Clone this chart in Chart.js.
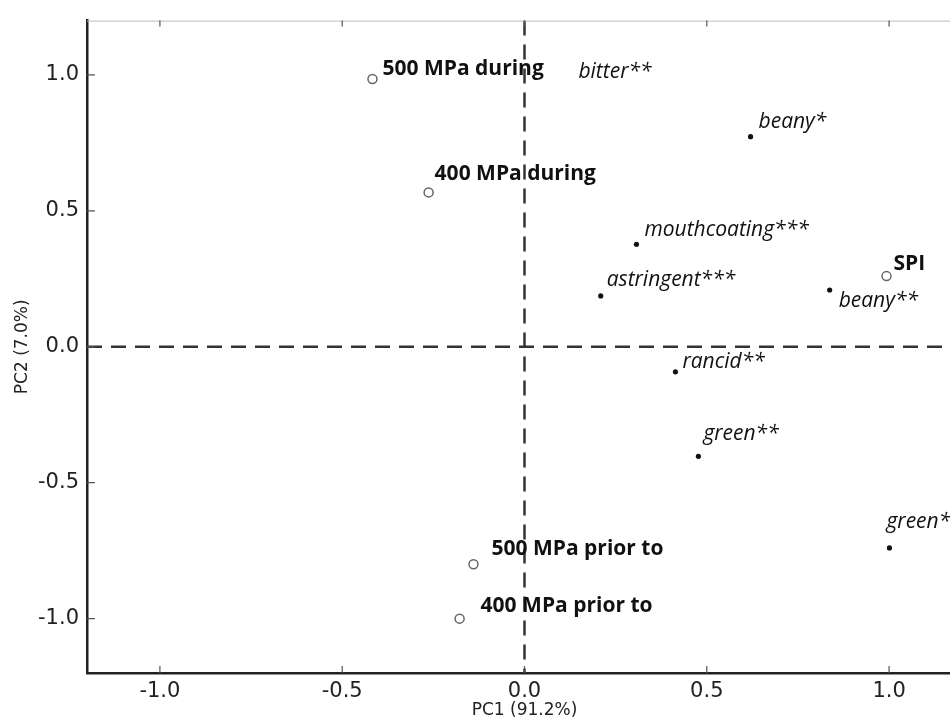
<!DOCTYPE html>
<html>
<head>
<meta charset="utf-8">
<script src="https://cdn.jsdelivr.net/npm/chart.js@4.4.1/dist/chart.umd.min.js"></script>
<style>
  html, body { margin: 0; padding: 0; background: #fff; overflow: hidden; }
  #wrap { width: 970px; height: 722px; position: relative; }
</style>
</head>
<body>
<div id="wrap"><canvas id="pcaChart"></canvas></div>
<script>
// samples (open circles)
const sampleNames = ['500 MPa during', '400 MPa during', 'SPI', '500 MPa prior to', '400 MPa prior to'];
const sampleX = [-0.417, -0.263, 0.993, -0.14, -0.178];
const sampleY = [0.985, 0.568, 0.26, -0.80, -1.0];

// sensory attributes (filled dots)
const attrNames = ['bitter**', 'beany*', 'mouthcoating***', 'astringent***', 'beany**', 'rancid**', 'green**', 'green*'];
const attrX = [0.126, 0.62, 0.307, 0.209, 0.837, 0.414, 0.477, 1.001];
const attrY = [0.978, 0.773, 0.377, 0.187, 0.209, -0.092, -0.403, -0.74];

const axisTicks = [-1.0, -0.5, 0.0, 0.5, 1.0];

// label offsets in px (style only)
const sampleOffsets = [[10, -10], [6, -18], [7, -12], [18, -15], [21, -13]];
const attrOffsets = [[8, -9], [8, -15], [8, -14], [6, -16], [9, 11], [7, -10], [5, -22], [-3, -26]];

function toPoints(xs, ys) {
    return xs.map(function (x, i) { return { x: x, y: ys[i] }; });
}

const tickFont = { family: 'DejaVu Sans', size: 21 };
const titleFont = { family: 'DejaVu Sans', size: 17 };

const labelPlugin = {
    id: 'pointLabels',
    afterDatasetsDraw(chart) {
        const ctx = chart.ctx;
        ctx.save();
        ctx.fillStyle = '#111';
        ctx.textBaseline = 'middle';
        ctx.textAlign = 'left';
        chart.data.datasets.forEach(function (ds, di) {
            const meta = chart.getDatasetMeta(di);
            ctx.font = ds.labelFont;
            meta.data.forEach(function (pt, i) {
                const off = ds.labelOffsets[i];
                ctx.fillText(ds.labels[i], pt.x + off[0], pt.y + off[1]);
            });
        });
        ctx.restore();
    }
};

const framePlugin = {
    id: 'frame',
    beforeDatasetsDraw(chart) {
        const ctx = chart.ctx;
        const xs = chart.scales.x, ys = chart.scales.y;
        const a = chart.chartArea;
        ctx.save();
        // dashed zero lines
        ctx.strokeStyle = '#333';
        ctx.lineWidth = 2.5;
        ctx.setLineDash([15, 9]);
        const x0 = xs.getPixelForValue(0), y0 = ys.getPixelForValue(0);
        ctx.beginPath();
        ctx.moveTo(a.left, y0); ctx.lineTo(a.right, y0);
        ctx.moveTo(x0, a.top); ctx.lineTo(x0, a.bottom);
        ctx.stroke();
        ctx.setLineDash([]);
        // top frame line
        ctx.strokeStyle = '#bbb';
        ctx.lineWidth = 1;
        ctx.beginPath();
        ctx.moveTo(a.left, a.top + 0.5); ctx.lineTo(a.right, a.top + 0.5);
        ctx.stroke();
        // inward tick marks
        ctx.strokeStyle = '#555';
        ctx.lineWidth = 1.2;
        ctx.beginPath();
        axisTicks.forEach(function (v) {
            const px = xs.getPixelForValue(v);
            ctx.moveTo(px, a.bottom); ctx.lineTo(px, a.bottom - 7);
            ctx.moveTo(px, a.top); ctx.lineTo(px, a.top + 6);
            const py = ys.getPixelForValue(v);
            ctx.moveTo(a.left, py); ctx.lineTo(a.left + 8, py);
        });
        ctx.stroke();
        ctx.restore();
    }
};

new Chart(document.getElementById('pcaChart'), {
    type: 'scatter',
    data: {
        datasets: [
            {
                label: 'Samples',
                data: toPoints(sampleX, sampleY),
                labels: sampleNames,
                labelOffsets: sampleOffsets,
                labelFont: 'bold 21px "Open Sans"',
                pointStyle: 'circle',
                pointRadius: 4.5,
                pointBorderWidth: 1.5,
                pointBorderColor: '#666',
                pointBackgroundColor: '#fff',
            },
            {
                label: 'Attributes',
                data: toPoints(attrX, attrY),
                labels: attrNames,
                labelOffsets: attrOffsets,
                labelFont: 'italic 21px "Open Sans"',
                pointRadius: attrNames.map(function (n, i) { return i === 0 ? 0 : 2.6; }),
                pointBorderWidth: 0,
                pointBackgroundColor: '#111',
            }
        ]
    },
    options: {
        responsive: true,
        maintainAspectRatio: false,
        animation: false,
        layout: { padding: { left: 0, top: 18, right: 8, bottom: 0 } },
        plugins: {
            legend: { display: false },
            tooltip: { enabled: false }
        },
        scales: {
            x: {
                type: 'linear',
                min: -1.2,
                max: 1.2,
                grid: { display: false, drawTicks: false },
                border: { display: true, color: '#222', width: 2.5 },
                afterFit: function (scale) { scale.height = 49; },
                afterBuildTicks: function (scale) {
                    scale.ticks = axisTicks.map(function (v) { return { value: v }; });
                },
                ticks: {
                    color: '#222',
                    font: tickFont,
                    padding: 6,
                    maxRotation: 0,
                    callback: function (v) { return Number(v).toFixed(1); }
                },
                title: {
                    display: true,
                    text: 'PC1 (91.2%)',
                    color: '#222',
                    font: titleFont,
                    padding: { top: 0, bottom: 1 }
                }
            },
            y: {
                type: 'linear',
                min: -1.2,
                max: 1.2,
                grid: { display: false, drawTicks: false },
                border: { display: true, color: '#222', width: 2.5 },
                afterFit: function (scale) { scale.width = 87; },
                afterBuildTicks: function (scale) {
                    scale.ticks = axisTicks.map(function (v) { return { value: v }; });
                },
                ticks: {
                    color: '#222',
                    font: tickFont,
                    padding: 8,
                    callback: function (v) { return Number(v).toFixed(1); }
                },
                title: {
                    display: true,
                    text: 'PC2 (7.0%)',
                    color: '#222',
                    font: titleFont,
                    padding: { top: 12, bottom: 0 }
                }
            }
        }
    },
    plugins: [framePlugin, labelPlugin]
});
</script>
</body>
</html>
